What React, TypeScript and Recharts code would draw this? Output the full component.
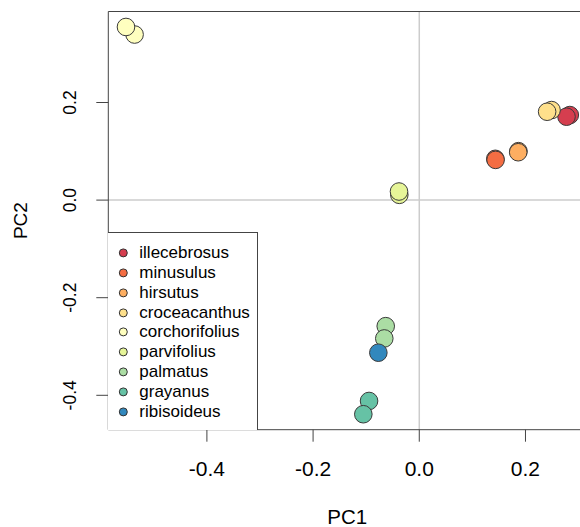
import {
  ScatterChart,
  Scatter,
  XAxis,
  YAxis,
  ReferenceLine,
  Legend,
  Label,
} from "recharts";

const SPECIES = [
  "illecebrosus",
  "minusulus",
  "hirsutus",
  "croceacanthus",
  "corchorifolius",
  "parvifolius",
  "palmatus",
  "grayanus",
  "ribisoideus",
];

// Spectral palette, one colour per species
const COLORS = [
  "#D53E4F",
  "#F46D43",
  "#FDAE61",
  "#FEE08B",
  "#FFFFBF",
  "#E6F598",
  "#ABDDA4",
  "#66C2A5",
  "#3288BD",
];

// one entry per sample, in drawing order
const POINT_SPECIES = [
  "illecebrosus", "illecebrosus",
  "minusulus", "minusulus",
  "hirsutus", "hirsutus",
  "croceacanthus", "croceacanthus",
  "corchorifolius", "corchorifolius",
  "parvifolius", "parvifolius",
  "palmatus", "palmatus",
  "grayanus", "grayanus",
  "ribisoideus",
];
const POINT_PC1 = [
  0.2835, 0.2773,
  0.1432, 0.1437,
  0.1868, 0.1863,
  0.2491, 0.2408,
  -0.5362, -0.5524,
  -0.0376, -0.0382,
  -0.0632, -0.0659,
  -0.0946, -0.1054,
  -0.0771,
];
const POINT_PC2 = [
  0.1743, 0.1709,
  0.0846, 0.0824,
  0.1003, 0.0981,
  0.1845, 0.1811,
  0.3393, 0.3548,
  0.0108, 0.0176,
  -0.2583, -0.2835,
  -0.4116, -0.4388,
  -0.3127,
];

const X_TICKS = [-0.4, -0.2, 0, 0.2];
const Y_TICKS = [-0.4, -0.2, 0, 0.2];
const X_DOMAIN = [-0.5857, 0.314];
const Y_DOMAIN = [-0.4705, 0.3865];

const FONT = '"Liberation Sans", Arial, Helvetica, sans-serif';
const AXIS_COLOR = "#444";

const YTick = (props: any) => {
  const { x, y, payload } = props;
  return (
    <text
      transform={`translate(${x},${y}) rotate(-90)`}
      textAnchor="middle"
      dy="0.36em"
      fontSize={17.5}
      fontFamily={FONT}
      fill="#000"
    >
      {Number(payload.value).toFixed(1)}
    </text>
  );
};

const LegendBox = (props: any) => {
  // keep the species order, not the alphabetical one
  const payload = [...(props.payload ?? [])].sort(
    (a: any, b: any) => SPECIES.indexOf(a.value) - SPECIES.indexOf(b.value)
  );
  return (
    <div
      style={{
        width: 150,
        height: 198,
        boxSizing: "border-box",
        borderTop: `1px solid ${AXIS_COLOR}`,
        borderRight: `1px solid ${AXIS_COLOR}`,
        paddingTop: 10.4,
        background: "white",
        fontFamily: FONT,
        fontSize: 17,
        color: "#000",
      }}
    >
      {payload.map((p: any) => (
        <div
          key={p.value}
          style={{ display: "flex", alignItems: "center", height: 19.8 }}
        >
          <svg width={31} height={19.8} style={{ flex: "none" }}>
            <circle cx={15.3} cy={9.9} r={4} fill={p.color} stroke="#333" />
          </svg>
          <span style={{ lineHeight: "19.8px", whiteSpace: "nowrap" }}>
            {p.value}
          </span>
        </div>
      ))}
    </div>
  );
};

export default function App() {
  const series = SPECIES.map((name, i) => ({
    name,
    color: COLORS[i],
    data: POINT_SPECIES.map((s, j) => ({ s, pc1: POINT_PC1[j], pc2: POINT_PC2[j] }))
      .filter((d) => d.s === name),
  }));

  return (
    <div
      style={{
        position: "absolute",
        left: 0,
        top: 0,
        width: 580,
        height: 527,
        overflow: "hidden",
        background: "white",
      }}
    >
      <ScatterChart
        width={620}
        height={527}
        margin={{ top: 11.5, right: 34, bottom: 0, left: 0 }}
      >
        <XAxis
          type="number"
          dataKey="pc1"
          domain={X_DOMAIN}
          ticks={X_TICKS}
          allowDataOverflow
          height={97.3}
          tickSize={12}
          tickMargin={19.3}
          tickFormatter={(v) => Number(v).toFixed(1)}
          tick={{ fontSize: 21, fontFamily: FONT, fill: "#000" }}
          stroke={AXIS_COLOR}
          axisLine={{ stroke: AXIS_COLOR }}
          tickLine={{ stroke: AXIS_COLOR }}
        >
          <Label
            value="PC1"
            position="insideBottom"
            offset={3.5}
            style={{ fontSize: 20.5, fontFamily: FONT, fill: "#000" }}
          />
        </XAxis>
        <YAxis
          type="number"
          dataKey="pc2"
          domain={Y_DOMAIN}
          ticks={Y_TICKS}
          allowDataOverflow
          width={108.3}
          tickSize={12}
          tickMargin={26.3}
          tick={<YTick />}
          stroke={AXIS_COLOR}
          axisLine={{ stroke: AXIS_COLOR }}
          tickLine={{ stroke: AXIS_COLOR }}
        >
          <Label
            content={(p: any) => {
              const vb = p.viewBox ?? { x: 0, y: 11.5, height: 418.2 };
              return (
                <text
                  transform={`translate(${vb.x + 20},${vb.y + vb.height / 2}) rotate(-90)`}
                  textAnchor="middle"
                  dy="0.36em"
                  fontSize={19}
                  fontFamily={FONT}
                  fill="#000"
                >
                  PC2
                </text>
              );
            }}
          />
        </YAxis>
        <ReferenceLine x={0} stroke="#cccccc" strokeWidth={1.5} />
        <ReferenceLine y={0} stroke="#cccccc" strokeWidth={1.5} />
        <ReferenceLine y={Y_DOMAIN[1]} stroke={AXIS_COLOR} />
        <ReferenceLine x={X_DOMAIN[1]} stroke={AXIS_COLOR} />
        <Legend
          layout="vertical"
          align="center"
          verticalAlign="middle"
          content={<LegendBox />}
          wrapperStyle={{ left: 108.3, top: 231.8, width: 150, height: 198 }}
        />
        {series.map((s) => (
          <Scatter
            key={s.name}
            name={s.name}
            data={s.data}
            fill={s.color}
            isAnimationActive={false}
            shape={(p: any) => (
              <circle
                cx={p.cx}
                cy={p.cy}
                r={8.8}
                fill={s.color}
                stroke="#3a3a3a"
                strokeWidth={1}
              />
            )}
          />
        ))}
      </ScatterChart>
    </div>
  );
}
